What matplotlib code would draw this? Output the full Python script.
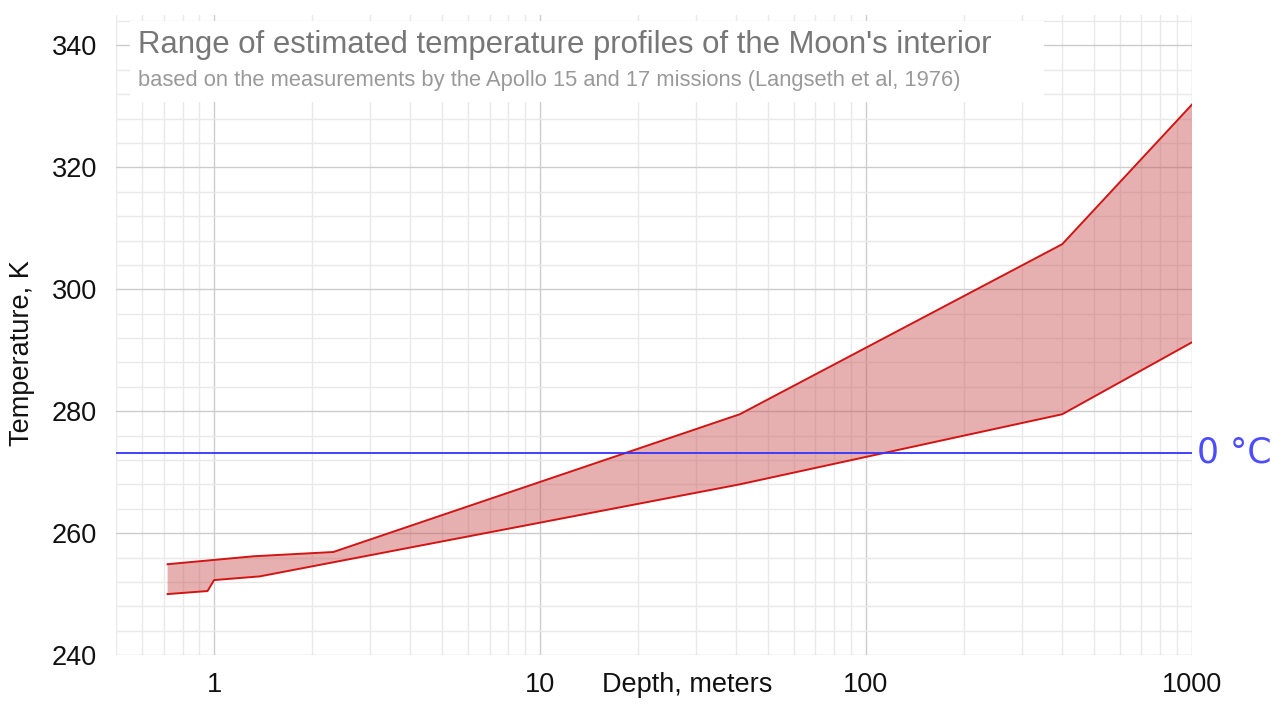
import numpy as np
import matplotlib.pyplot as plt
from matplotlib.patches import Rectangle
from matplotlib.ticker import FixedLocator, LogLocator, NullFormatter

# temperature profile bounds (Langseth et al, 1976)
depth_upper = [0.72, 1.32, 2.32, 41, 400, 1000]
temp_upper = [254.9, 256.2, 256.9, 279.5, 307.4, 330.3]

depth_lower = [0.72, 0.955, 1.0, 1.38, 41, 400, 1000]
temp_lower = [250.0, 250.5, 252.3, 252.9, 268.0, 279.5, 291.3]

freezing_K = 273.15

x_ticks = [1, 10, 100, 1000]
x_ticklabels = ['1', '10', '100', '1000']
y_ticks = [240, 260, 280, 300, 320, 340]

plt.rcParams['font.family'] = ['Liberation Sans', 'DejaVu Sans']

fig = plt.figure(figsize=(12.8, 7.07), dpi=100)
ax = fig.add_axes([0.0906, 0.0735, 0.8406, 0.9053])

# band between the two profiles
poly_x = depth_upper + depth_lower[::-1]
poly_y = temp_upper + temp_lower[::-1]
ax.fill(poly_x, poly_y, color='#c85050', alpha=0.45, lw=0, zorder=2)
ax.plot(depth_upper, temp_upper, color='#d21414', lw=1.4, zorder=3)
ax.plot(depth_lower, temp_lower, color='#d21414', lw=1.4, zorder=3)

# 0 degC line
ax.axhline(freezing_K, color='#3333ff', lw=1.3, zorder=4)
ax.text(1.005, freezing_K, '0 °C', transform=ax.get_yaxis_transform(),
        color='#4d4dff', fontsize=25, family='DejaVu Sans', va='center', ha='left')

ax.set_xscale('log')
ax.set_xlim(0.5, 1000)
ax.set_ylim(240, 345)

ax.set_xticks(x_ticks)
ax.set_xticklabels(x_ticklabels)
ax.xaxis.set_minor_locator(LogLocator(base=10, subs=np.arange(2, 10)))
ax.xaxis.set_minor_formatter(NullFormatter())
ax.set_yticks(y_ticks)
ax.yaxis.set_minor_locator(FixedLocator(np.arange(240, 346, 4)))

ax.grid(which='major', color='#cccccc', lw=1.0)
ax.grid(which='minor', color='#e9e9e9', lw=1.0)
ax.set_axisbelow(True)
ax.tick_params(which='both', length=0, labelsize=19.5, labelcolor='#111111')
ax.tick_params(axis='y', pad=13.5)
ax.tick_params(axis='x', pad=12)
for s in ax.spines.values():
    s.set_visible(False)

ax.set_xlabel('Depth, meters', fontsize=19.5, color='#111111', va='top')
ax.xaxis.set_label_coords(0.531, -0.0266)
ax.set_ylabel('Temperature, K', fontsize=19.5, color='#111111', va='center')
ax.yaxis.set_label_coords(-0.087, 0.472)

# title block on white background
ax.add_patch(Rectangle((0.013, 0.864), 0.8495, 0.1266, transform=ax.transAxes,
                       facecolor='white', edgecolor='none', zorder=5))
ax.text(0.0204, 0.9406, "Range of estimated temperature profiles of the Moon's interior",
        transform=ax.transAxes, fontsize=22.4, color='#777777', zorder=6, va='baseline')
ax.text(0.0204, 0.8885, 'based on the measurements by the Apollo 15 and 17 missions (Langseth et al, 1976)',
        transform=ax.transAxes, fontsize=15.75, color='#999999', zorder=6, va='baseline')

fig.savefig('out.png', dpi=100)
